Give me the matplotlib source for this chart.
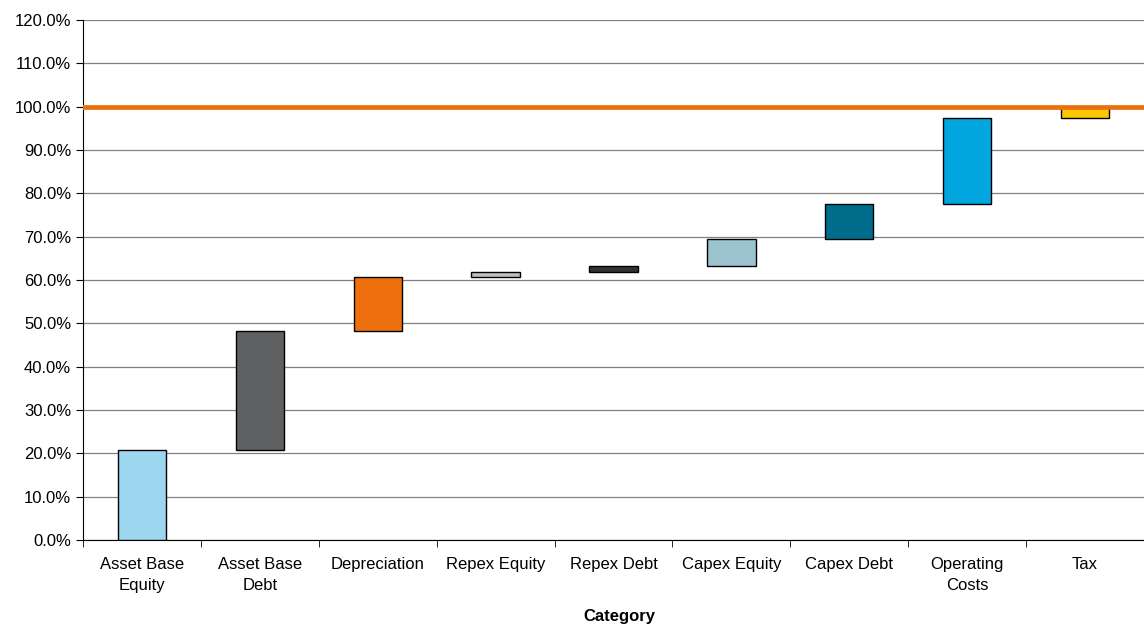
import matplotlib

matplotlib.use("Agg")

import matplotlib.pyplot as plt
from matplotlib.ticker import FuncFormatter, MultipleLocator

plt.rcParams["font.family"] = ["Liberation Sans", "DejaVu Sans"]

CATEGORIES = [
    "Asset Base\nEquity",
    "Asset Base\nDebt",
    "Depreciation",
    "Repex Equity",
    "Repex Debt",
    "Capex Equity",
    "Capex Debt",
    "Operating\nCosts",
    "Tax",
]
# share of total for each step, in percent
STEPS = [20.8, 27.4, 12.5, 1.1, 1.4, 6.2, 8.2, 19.9, 2.5]
COLORS = [
    "#9dd6ef",
    "#5f6062",
    "#ee6f0e",
    "#c0c0c0",
    "#333333",
    "#9bc3d0",
    "#006d8c",
    "#00a6dd",
    "#fdc700",
]
TARGET = 100.0

bottoms = []
running = 0.0
for step in STEPS:
    bottoms.append(running)
    running += step

fig = plt.figure(figsize=(11.44, 6.26), dpi=100)
ax = fig.add_axes([0.0726, 0.1374, 0.9274, 0.8306])

x = list(range(len(CATEGORIES)))
ax.bar(x, STEPS, bottom=bottoms, width=0.41, color=COLORS,
       edgecolor="black", linewidth=1.0, zorder=3)
ax.axhline(TARGET, color="#ea700d", linewidth=3.4, zorder=4)

ax.set_xlim(-0.5, len(CATEGORIES) - 0.5)
ax.set_ylim(0, 120)
ax.yaxis.set_major_locator(MultipleLocator(10))
ax.yaxis.set_major_formatter(FuncFormatter(lambda v, _: f"{v:.1f}%"))
ax.grid(True, axis="y", color="#808080", linewidth=0.9, zorder=0)

ax.set_xticks(x)
ax.set_xticklabels(CATEGORIES)
for label in ax.get_xticklabels():
    label.set_linespacing(1.55)
ax.set_xticks([i + 0.5 for i in range(-1, len(CATEGORIES))], minor=True)
ax.tick_params(axis="x", which="major", length=0, pad=12, labelsize=12)
ax.tick_params(axis="x", which="minor", length=5, color="black")
ax.tick_params(axis="y", length=5, labelsize=12, color="black")

for side in ("top", "right"):
    ax.spines[side].set_visible(False)
ax.spines["left"].set_color("black")
ax.spines["bottom"].set_color("black")

fig.text(619 / 1144, 1 - 617 / 626, "Category", fontweight="bold",
         fontsize=12, ha="center", va="center")

fig.savefig("out.png", dpi=100)
